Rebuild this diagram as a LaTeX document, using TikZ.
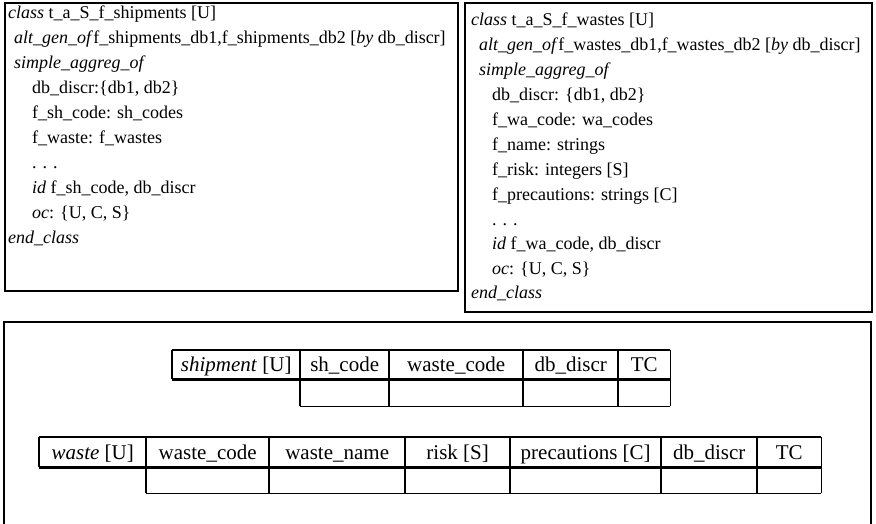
\documentclass[tikz,border=0pt]{standalone}
\usepackage{fontspec}
\setmainfont{Liberation Serif}
\begin{document}
\begin{tikzpicture}[x=1pt,y=-1pt,
  boxtext/.style={anchor=base west, inner sep=0pt, font=\fontsize{18}{22}\selectfont},
  frame/.style={draw=black, line width=1.8pt, anchor=north west, inner sep=0pt},
  cell/.style={anchor=north west, inner sep=0pt, minimum height=#1, text height=15pt, text depth=1pt, font=\fontsize{21}{24}\selectfont},
  rule/.style={line width=1.8pt},
  thinrule/.style={line width=1.3pt},
  headrule/.style={line width=3.4pt},
]
\useasboundingbox (0,0) rectangle (876,523);

% ---- class frames ----
\node[frame, minimum width=453pt, minimum height=288pt] (box1) at (4,2) {};
\node[frame, minimum width=407pt, minimum height=309pt] (box2) at (464,2) {};
\coordinate (b3a) at (4,540);
\coordinate (b3b) at (4,322);
\coordinate (b3c) at (871,322);
\coordinate (b3d) at (871,540);
\draw[line width=1.8pt] (b3a) -- (b3b) -- (b3c) -- (b3d);

% ---- class t_a_S_f_shipments ----
\node[boxtext] (a1)  at (8,18)   {\textit{class} t\_a\_S\_f\_shipments [U]};
\node[boxtext] (a2)  at (14,43)  {\textit{alt\_gen\_of}f\_shipments\_db1,f\_shipments\_db2 [\textit{by} db\_discr]};
\node[boxtext] (a3)  at (14,68)  {\textit{simple\_aggreg\_of}};
\node[boxtext] (a4)  at (32,93)  {db\_discr:\{db1, db2\}};
\node[boxtext] (a5)  at (32,118) {f\_sh\_code: sh\_codes};
\node[boxtext] (a6)  at (32,143) {f\_waste: f\_wastes};
\node[boxtext] (a7)  at (32,168) {. . .};
\node[boxtext] (a8)  at (32,193) {\textit{id} f\_sh\_code, db\_discr};
\node[boxtext] (a9)  at (32,218) {\textit{oc}: \{U, C, S\}};
\node[boxtext] (a10) at (8,243)  {\textit{end\_class}};

% ---- class t_a_S_f_wastes ----
\node[boxtext] (w1)  at (471,25)  {\textit{class} t\_a\_S\_f\_wastes [U]};
\node[boxtext] (w2)  at (479,50)  {\textit{alt\_gen\_of}f\_wastes\_db1,f\_wastes\_db2 [\textit{by} db\_discr]};
\node[boxtext] (w3)  at (479,75)  {\textit{simple\_aggreg\_of}};
\node[boxtext] (w4)  at (492,100) {db\_discr: \{db1, db2\}};
\node[boxtext] (w5)  at (492,125) {f\_wa\_code: wa\_codes};
\node[boxtext] (w6)  at (492,150) {f\_name: strings};
\node[boxtext] (w7)  at (492,175) {f\_risk: integers [S]};
\node[boxtext] (w8)  at (492,200) {f\_precautions: strings [C]};
\node[boxtext] (w9)  at (492,225) {. . .};
\node[boxtext] (w10) at (492,249) {\textit{id} f\_wa\_code, db\_discr};
\node[boxtext] (w11) at (492,274) {\textit{oc}: \{U, C, S\}};
\node[boxtext] (w12) at (471,298) {\textit{end\_class}};

% ---- relation shipment ----
\node[cell=29pt, minimum width=128pt] (sN) at (172,350) {\textit{shipment} [U]};
\node[cell=29pt, minimum width=89pt]  (s1) at (300,350) {sh\_code};
\node[cell=29pt, minimum width=134pt] (s2) at (389,350) {waste\_code};
\node[cell=29pt, minimum width=95pt]  (s3) at (523,350) {db\_discr};
\node[cell=29pt, minimum width=52pt]  (s4) at (618,350) {TC};
\node[cell=27pt, minimum width=89pt]  (t1) at (300,379) {};
\node[cell=27pt, minimum width=134pt] (t2) at (389,379) {};
\node[cell=27pt, minimum width=95pt]  (t3) at (523,379) {};
\node[cell=27pt, minimum width=52pt]  (t4) at (618,379) {};

\draw[rule] (sN.north west) -- (s4.north east);
\draw[headrule] (sN.south west) -- (s4.south east);
\draw[rule] (t1.south west) -- (t4.south east);
\draw[rule] (sN.north west) -- (sN.south west);
\draw[thinrule] (s1.north west) -- (t1.south west);
\draw[thinrule] (s2.north west) -- (t2.south west);
\draw[thinrule] (s3.north west) -- (t3.south west);
\draw[thinrule] (s4.north west) -- (t4.south west);
\draw[rule] (s4.north east) -- (t4.south east);

% ---- relation waste ----
\node[cell=30pt, minimum width=107pt] (vN) at (39,437)  {\textit{waste} [U]};
\node[cell=30pt, minimum width=123pt] (v1) at (146,437) {waste\_code};
\node[cell=30pt, minimum width=136pt] (v2) at (269,437) {waste\_name};
\node[cell=30pt, minimum width=105pt] (v3) at (405,437) {risk [S]};
\node[cell=30pt, minimum width=151pt] (v4) at (510,437) {precautions [C]};
\node[cell=30pt, minimum width=96pt]  (v5) at (661,437) {db\_discr};
\node[cell=30pt, minimum width=64pt]  (v6) at (757,437) {TC};
\node[cell=26pt, minimum width=123pt] (u1) at (146,467) {};
\node[cell=26pt, minimum width=136pt] (u2) at (269,467) {};
\node[cell=26pt, minimum width=105pt] (u3) at (405,467) {};
\node[cell=26pt, minimum width=151pt] (u4) at (510,467) {};
\node[cell=26pt, minimum width=96pt]  (u5) at (661,467) {};
\node[cell=26pt, minimum width=64pt]  (u6) at (757,467) {};

\draw[rule] (vN.north west) -- (v6.north east);
\draw[headrule] (vN.south west) -- (v6.south east);
\draw[rule] (u1.south west) -- (u6.south east);
\draw[rule] (vN.north west) -- (vN.south west);
\draw[thinrule] (v1.north west) -- (u1.south west);
\draw[thinrule] (v2.north west) -- (u2.south west);
\draw[thinrule] (v3.north west) -- (u3.south west);
\draw[thinrule] (v4.north west) -- (u4.south west);
\draw[thinrule] (v5.north west) -- (u5.south west);
\draw[thinrule] (v6.north west) -- (u6.south west);
\draw[rule] (v6.north east) -- (u6.south east);
\end{tikzpicture}
\end{document}
